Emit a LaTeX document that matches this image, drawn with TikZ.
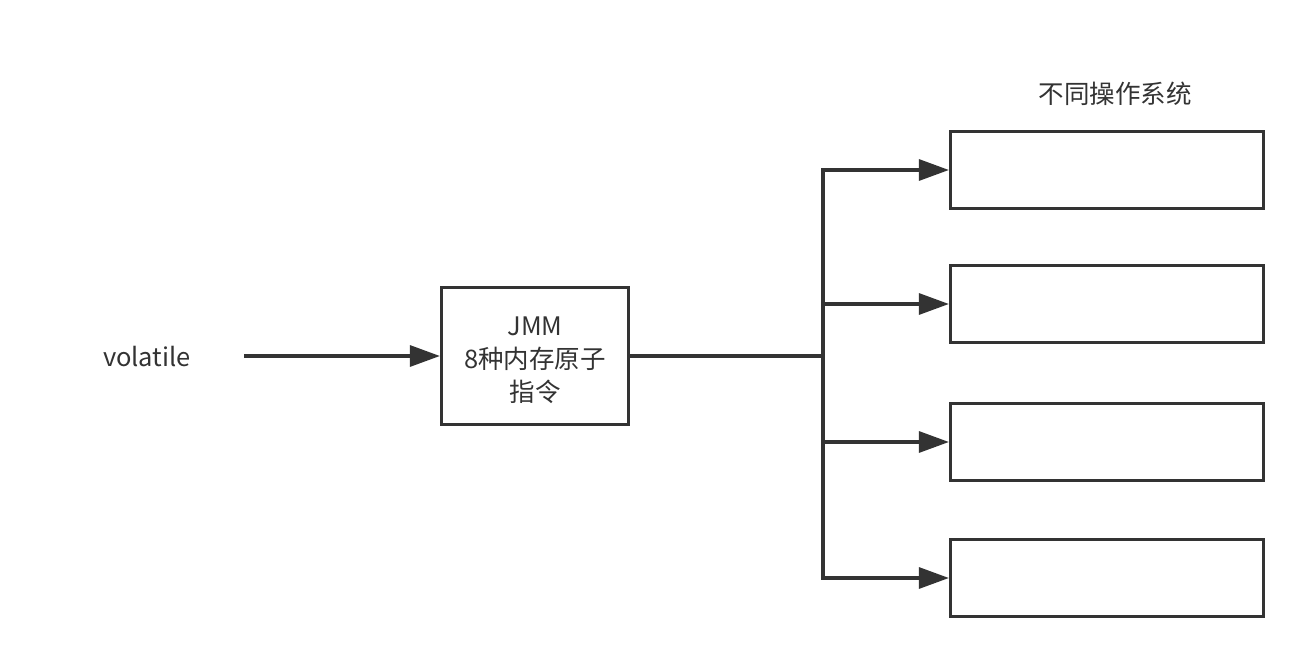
\documentclass[tikz,border=0pt]{standalone}
\usepackage{fontspec}
\setmainfont{Noto Sans CJK SC}
\usetikzlibrary{arrows.meta}
\definecolor{linegray}{HTML}{333333}

\begin{document}
\begin{tikzpicture}[x=1pt, y=-1pt, line width=3.2pt,
    every node/.style={font=\fontsize{25.5}{33}\selectfont, text=linegray},
    jmmbox/.style={draw=linegray, minimum width=187pt, minimum height=137pt, inner sep=0pt},
    osbox/.style={draw=linegray, minimum width=313pt, minimum height=77pt, inner sep=0pt},
    arr/.style={draw=linegray, -{Triangle[length=30pt, width=21pt]}}]
    \useasboundingbox[fill=white] (0,0) rectangle (1314,668);

    \node (volatile) at (147,357) {volatile};
    \coordinate (start) at (244,356);
    \node[jmmbox] (jmm) at (535,356) {};
    \node[align=center] (jmmtext) at (535,360) {JMM\\8种内存原子\\指令};
    \draw[arr] (start) -- (jmm.west);

    % operating systems
    \node (title) at (1115,94) {不同操作系统};
    \node[osbox] (os1) at (1107,170) {};
    \node[osbox] (os2) at (1107,304) {};
    \node[osbox] (os3) at (1107,442) {};
    \node[osbox] (os4) at (1107,578) {};

    \coordinate (split) at (823,356);
    \draw[draw=linegray] (jmm.east) -- (split);
    \draw[arr] (split) |- (os1.west);
    \draw[arr] (split) |- (os2.west);
    \draw[arr] (split) |- (os3.west);
    \draw[arr] (split) |- (os4.west);
\end{tikzpicture}
\end{document}
